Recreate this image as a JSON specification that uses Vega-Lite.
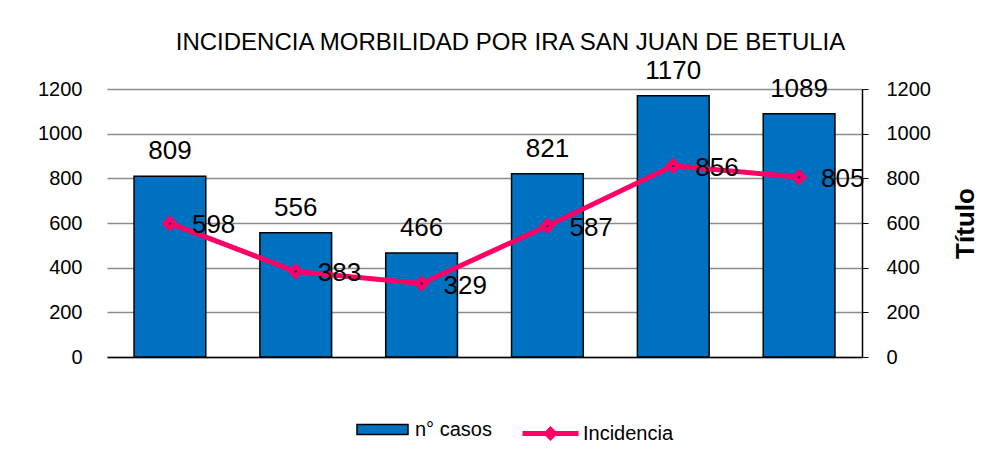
{
  "$schema": "https://vega.github.io/schema/vega-lite/v6.json",
  "autosize": {"type": "none"},
  "width": 755,
  "height": 268,
  "padding": {"left": 107, "top": 89, "right": 142, "bottom": 101},
  "background": "white",
  "title": {
    "text": "INCIDENCIA MORBILIDAD POR IRA SAN JUAN DE BETULIA",
    "font": "Liberation Sans",
    "fontSize": 24,
    "fontWeight": "normal",
    "color": "#000000",
    "anchor": "middle",
    "frame": "group",
    "dx": 26,
    "offset": 3
  },
  "data": {
    "values": [
      {"periodo": "1", "casos": 809, "incidencia": 598},
      {"periodo": "2", "casos": 556, "incidencia": 383},
      {"periodo": "3", "casos": 466, "incidencia": 329},
      {"periodo": "4", "casos": 821, "incidencia": 587},
      {"periodo": "5", "casos": 1170, "incidencia": 856},
      {"periodo": "6", "casos": 1089, "incidencia": 805}
    ]
  },
  "encoding": {
    "x": {
      "field": "periodo",
      "type": "nominal",
      "scale": {"paddingInner": 0.43, "paddingOuter": 0.215},
      "axis": {"title": null, "labels": false, "ticks": false, "domain": true, "domainColor": "#000000", "domainWidth": 1.5, "grid": false}
    }
  },
  "layer": [
    {
      "encoding": {
        "y": {
          "field": "casos",
          "type": "quantitative",
          "scale": {"domain": [0, 1200], "nice": false},
          "axis": {
            "orient": "left",
            "title": null,
            "format": "d",
            "values": [0, 200, 400, 600, 800, 1000, 1200],
            "domain": false,
            "ticks": false,
            "labelPadding": 25,
            "grid": true,
            "gridColor": "#8c8c8c",
            "gridWidth": 1.5
          }
        }
      },
      "layer": [
        {
          "mark": {"type": "bar", "stroke": "#000000", "strokeWidth": 1.5},
          "encoding": {
            "fill": {
              "datum": "n° casos",
              "type": "nominal",
              "scale": {"range": ["#0070C0"]},
              "legend": {
                "title": null,
                "orient": "none",
                "legendX": 249,
                "legendY": 314,
                "padding": 0,
                "symbolType": "M-1,-0.2H1V0.2H-1Z",
                "symbolSize": 2601,
                "symbolStrokeColor": "#000000",
                "symbolStrokeWidth": 1.5,
                "labelFontSize": 20,
                "labelFont": "Liberation Sans",
                "labelColor": "#000000",
                "labelOffset": 6
              }
            }
          }
        },
        {
          "mark": {"type": "text", "font": "Liberation Sans", "fontSize": 26, "baseline": "alphabetic", "dy": -17, "color": "#000000"},
          "encoding": {"text": {"field": "casos", "type": "quantitative"}}
        }
      ]
    },
    {
      "encoding": {
        "y": {
          "field": "incidencia",
          "type": "quantitative",
          "scale": {"domain": [0, 1200], "nice": false},
          "axis": {
            "orient": "right",
            "title": "Título",
            "format": "d",
            "titleFont": "Liberation Sans",
            "titleFontSize": 26,
            "titleFontWeight": "bold",
            "titleColor": "#000000",
            "titleAngle": -90,
            "titlePadding": 48,
            "values": [0, 200, 400, 600, 800, 1000, 1200],
            "domain": true,
            "domainColor": "#000000",
            "domainWidth": 1.5,
            "ticks": true,
            "tickColor": "#000000",
            "tickSize": 6,
            "labelPadding": 18,
            "grid": false
          }
        }
      },
      "layer": [
        {
          "mark": {"type": "line", "strokeWidth": 5},
          "encoding": {
            "stroke": {
              "datum": "Incidencia",
              "type": "nominal",
              "scale": {"range": ["#FF0066"]},
              "legend": {
                "title": null,
                "orient": "none",
                "legendX": 413,
                "legendY": 314,
                "padding": 0,
                "symbolType": "M-1,0H1M0,-0.14L0.14,0L0,0.14L-0.14,0Z",
                "symbolSize": 3136,
                "symbolStrokeWidth": 5,
                "symbolFillColor": "#FF0066",
                "labelFontSize": 20,
                "labelFont": "Liberation Sans",
                "labelColor": "#000000",
                "labelOffset": 2
              }
            }
          }
        },
        {
          "mark": {"type": "point", "shape": "diamond", "filled": true, "size": 180, "color": "#FF0066", "stroke": "#FF0066", "strokeWidth": 2, "opacity": 1}
        },
        {
          "mark": {"type": "point", "shape": "circle", "filled": true, "size": 6, "color": "#1F1F7A", "opacity": 1}
        },
        {
          "mark": {"type": "text", "font": "Liberation Sans", "fontSize": 26, "align": "left", "baseline": "middle", "dx": 22, "dy": 2, "color": "#000000"},
          "encoding": {"text": {"field": "incidencia", "type": "quantitative"}}
        }
      ]
    }
  ],
  "resolve": {"scale": {"y": "independent", "fill": "independent", "stroke": "independent"}},
  "config": {
    "font": "Liberation Sans",
    "view": {"stroke": null},
    "axis": {"labelFont": "Liberation Sans", "labelFontSize": 20, "labelColor": "#000000"}
  }
}
